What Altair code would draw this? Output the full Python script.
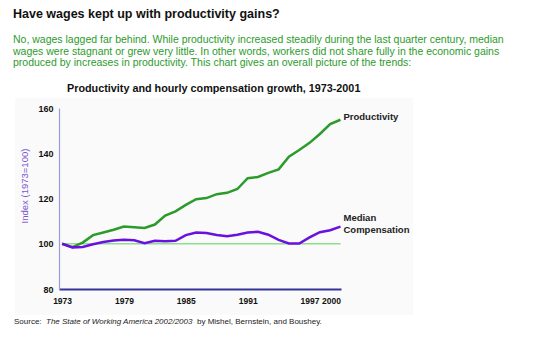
import altair as alt
import pandas as pd

years = list(range(1973, 2001))
productivity = [100, 98.5, 100.5, 103.8, 105.0, 106.2, 107.6, 107.3, 107.0, 108.5,
                112.5, 114.3, 117.2, 119.7, 120.2, 121.9, 122.5, 124.2, 129.0, 129.5,
                131.3, 132.9, 138.5, 141.4, 144.6, 148.5, 152.9, 154.8]
compensation = [100, 98.4, 98.6, 99.8, 100.8, 101.4, 101.8, 101.5, 100.2, 101.3,
                101.1, 101.3, 103.8, 105.0, 104.7, 103.9, 103.3, 104.0, 105.0, 105.3,
                104.0, 101.7, 100.1, 100.1, 102.8, 105.1, 106.0, 107.6]
x_ticks = [1973, 1979, 1985, 1991, 1997, 2000]
y_ticks = [80, 100, 120, 140, 160]

title = "Have wages kept up with productivity gains?"
paragraph = [
    "No, wages lagged far behind. While productivity increased steadily during the last quarter century, median",
    "wages were stagnant or grew very little. In other words, workers did not share fully in the economic gains",
    "produced by increases in productivity. This chart gives an overall picture of the trends:",
]
chart_title = "Productivity and hourly compensation growth, 1973-2001"
y_title = "Index (1973=100)"
source_a = "Source:"
source_b = "The State of Working America 2002/2003"
source_c = "by Mishel, Bernstein, and Boushey."

FONT = "Liberation Sans"
W, H = 282, 181
L, T = 59, 108

df = pd.DataFrame({"year": years, "Productivity": productivity, "Compensation": compensation})
base = pd.DataFrame({"year": [years[0], years[-1]], "v": [100, 100]})

xs = alt.Scale(domain=[1972.7, 2000.05], nice=False, zero=False)
ys = alt.Scale(domain=[80, 160], nice=False, zero=False)

xaxis = alt.Axis(values=x_ticks, format="d", grid=False, ticks=False, domainColor="#33339a",
                 domainWidth=2, labelFont=FONT, labelFontSize=8.5, labelFontWeight="bold",
                 labelColor="#111111", labelPadding=7, title=None, zindex=1)
yaxis = alt.Axis(values=y_ticks, grid=False, ticks=False, domainColor="#9a9ae0",
                 domainWidth=1.2, labelFont=FONT, labelFontSize=9, labelFontWeight="bold",
                 labelColor="#111111", labelPadding=6, title=None, zindex=1)

panel = alt.Chart(pd.DataFrame({"a": [0]})).mark_rect(color="#fafafa").encode(
    x=alt.value(15 - L), x2=alt.value(413 - L), y=alt.value(98 - T), y2=alt.value(315 - T))

ref = alt.Chart(base).mark_line(color="#8ede8e", strokeWidth=1.3).encode(
    x=alt.X("year:Q", scale=xs, axis=xaxis), y=alt.Y("v:Q", scale=ys, axis=yaxis))

prod = alt.Chart(df).mark_line(color="#2b9b2b", strokeWidth=2.5).encode(
    x=alt.X("year:Q", scale=xs), y=alt.Y("Productivity:Q", scale=ys))
comp = alt.Chart(df).mark_line(color="#6a10e0", strokeWidth=2.5).encode(
    x=alt.X("year:Q", scale=xs), y=alt.Y("Compensation:Q", scale=ys))

lab_p = alt.Chart(pd.DataFrame({"year": [years[-1]], "v": [productivity[-1]], "t": ["Productivity"]})).mark_text(
    align="left", baseline="middle", dx=3, dy=-3, font=FONT, fontSize=9.5, fontWeight="bold", color="#222222"
).encode(x=alt.X("year:Q", scale=xs), y=alt.Y("v:Q", scale=ys), text="t:N")
lab_c = alt.Chart(pd.DataFrame({"year": [years[-1]], "v": [compensation[-1]]})).mark_text(
    align="left", baseline="middle", dx=3, dy=-9, font=FONT, fontSize=9.5, fontWeight="bold", color="#222222",
    text=["Median", "Compensation"], lineHeight=12
).encode(x=alt.X("year:Q", scale=xs), y=alt.Y("v:Q", scale=ys))


def txt(text, x, y, **kw):
    params = dict(align="left", baseline="middle", font=FONT)
    params.update(kw)
    return alt.Chart(pd.DataFrame({"a": [0]})).mark_text(text=text, **params).encode(
        x=alt.value(x - L), y=alt.value(y - T))


t1 = txt(title, 13, 14, fontSize=12.5, fontWeight="bold", color="#111111")
t2 = txt(paragraph, 13, 40, fontSize=10.5, color="#2b9b2b", lineHeight=11.6)
t3 = txt(chart_title, 67, 89, fontSize=10.8, fontWeight="bold", color="#111111")
t4 = txt(y_title, 25, 186, fontSize=9.5, color="#7a55d0", angle=270, align="center")
s1 = txt(source_a, 14, 322, fontSize=8, color="#222222")
s2 = txt(source_b, 46, 322, fontSize=8, color="#222222", fontStyle="italic")
s3 = txt(source_c, 197, 322, fontSize=8, color="#222222")

chart = alt.layer(panel, ref, prod, comp, lab_p, lab_c, t1, t2, t3, t4, s1, s2, s3).properties(
    width=W, height=H,
    padding={"left": L, "top": T, "right": 540 - L - W, "bottom": 342 - T - H},
    autosize=alt.AutoSizeParams(type="none"),
    background="white",
).configure_view(stroke=None)

chart.save("out.html", embed_options={"renderer": "svg", "actions": False})
